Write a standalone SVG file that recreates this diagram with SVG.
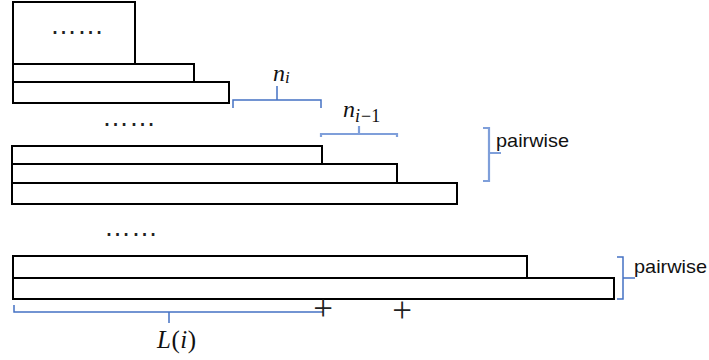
<svg xmlns="http://www.w3.org/2000/svg" width="709" height="360" viewBox="0 0 709 360">
<style>
.box{fill:#fff;stroke:#000;stroke-width:2}
.br{fill:none;stroke:#4472C4;stroke-width:1.5}
.brl{fill:none;stroke:#7F9FDA;stroke-width:2.2}
.dots{font-family:"Liberation Sans",Arial,sans-serif;font-size:27px;fill:#222}
.lbl{font-family:"Liberation Sans",Arial,sans-serif;font-size:19px;fill:#111}
.math{font-family:"Liberation Serif","Times New Roman",serif;font-style:italic;fill:#111}
.plus{font-family:"Liberation Serif","Times New Roman",serif;font-size:35px;fill:#222;text-anchor:middle}
</style>
<rect width="709" height="360" fill="#fff"/>
<g id="top-block">
<rect class="box" x="13" y="2" width="122" height="62"/>
<text class="dots" x="50" y="34">……</text>
</g>
<g id="bar-top-2"><rect class="box" x="13" y="64" width="181" height="18"/></g>
<g id="bar-top-3"><rect class="box" x="13" y="82" width="216" height="21"/></g>
<g id="dots-mid"><text class="dots" x="102" y="126">……</text></g>
<g id="bar-a"><rect class="box" x="12" y="146" width="310" height="18"/></g>
<g id="bar-b"><rect class="box" x="12" y="164" width="385" height="19"/></g>
<g id="bar-c"><rect class="box" x="12" y="183" width="445" height="21"/></g>
<g id="dots-bottom"><text class="dots" x="104" y="236">……</text></g>
<g id="bar-d"><rect class="box" x="13" y="256" width="514" height="22"/></g>
<g id="bar-e"><rect class="box" x="13" y="278" width="601" height="21"/></g>
<g id="connectors">
<path class="br" d="M233,108 V100 H321 V108 M277,100 V86"/>
<path class="brl" d="M321,137 V134 H397 V137 M359,134 V126"/>
<path class="brl" d="M483,128 H489 V181 H483 M489,153 H501"/>
<path class="br" d="M617,257 H623 V299 H617 M623,278 H635"/>
<path class="br" d="M14,305 V312 H323 M169,312 V323"/>
</g>
<g id="label-ni"><text class="math" x="273" y="81" font-size="24">n<tspan font-size="17" dy="2">i</tspan></text></g>
<g id="label-ni1"><text class="math" x="343" y="117" font-size="24">n<tspan font-size="18" dy="5">i</tspan><tspan font-size="18" font-style="normal" dx="1">−1</tspan></text></g>
<g id="label-pairwise-1"><text class="lbl" x="496" y="147" textLength="73" lengthAdjust="spacingAndGlyphs">pairwise</text></g>
<g id="label-pairwise-2"><text class="lbl" x="634" y="273" textLength="73" lengthAdjust="spacingAndGlyphs">pairwise</text></g>
<g id="label-L"><text class="math" x="157" y="348" font-size="25" textLength="39">L<tspan font-style="normal">(</tspan>i<tspan font-style="normal">)</tspan></text></g>
<g id="plus-1"><text class="plus" x="323" y="320">+</text></g>
<g id="plus-2"><text class="plus" x="402" y="322">+</text></g>
</svg>
